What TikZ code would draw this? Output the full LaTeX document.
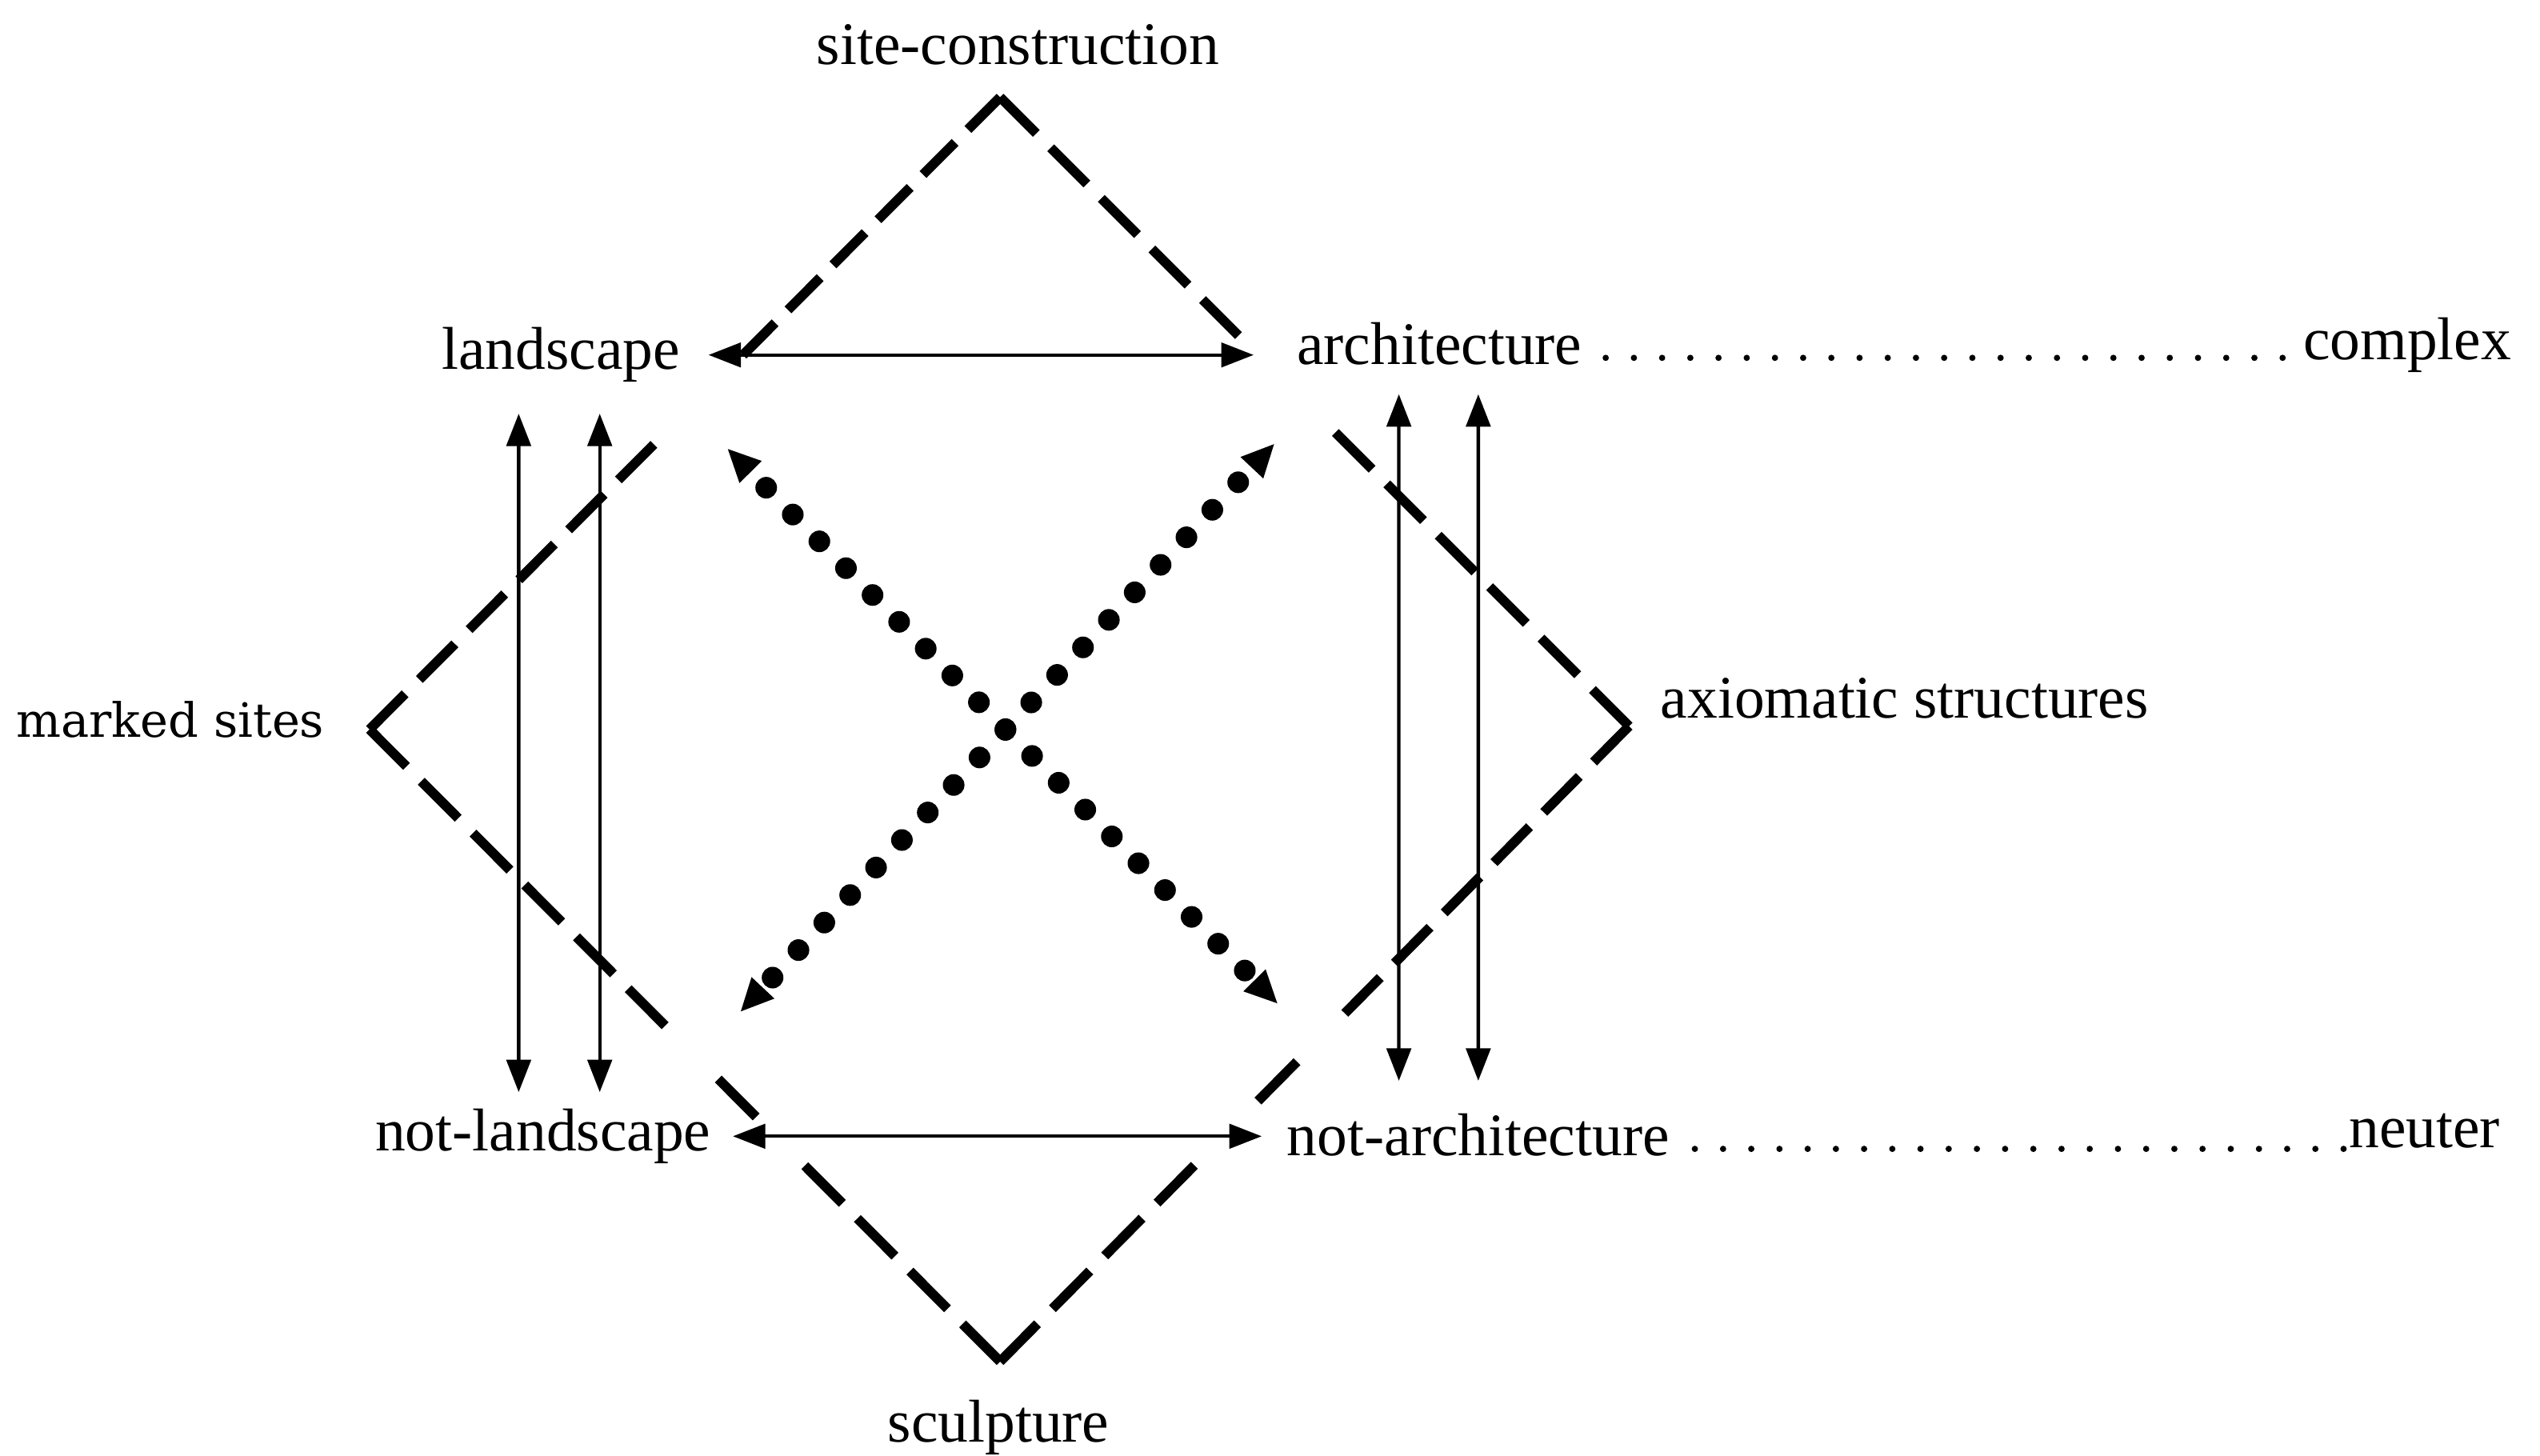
\documentclass[tikz,border=0pt]{standalone}
\usepackage{fontspec}
\setmainfont{Liberation Serif}
\newfontfamily\markfont{DejaVu Serif}
\usetikzlibrary{arrows.meta,calc}

\begin{document}
\begin{tikzpicture}[>={Triangle[length=2mm,width=1.5mm]},
  word/.style={inner sep=0pt,text height=7.2pt,text depth=2.2pt,font=\fontsize{10.6}{12}\selectfont},
  thin arrow/.style={<->,line width=0.6pt},
  big dash/.style={line width=1.7pt},
  big dots/.style={{Triangle[length=2mm,width=1.9mm,line width=0.4pt]}-{Triangle[length=2mm,width=1.9mm,line width=0.4pt]},
    line width=3.8pt,line cap=round,dash pattern=on 0pt off 2.33mm},
  leader/.style={line width=1.1pt,line cap=round,dash pattern=on 0pt off 1.74mm}]

 \useasboundingbox (0,0) rectangle (15.67,8.98);

 % the terms
 \node[word] (sitecon) at (6.28,8.67) {site-construction};
 \node[word] (land) at (3.46,6.79) {landscape};
 \node[word] (arch) at (8.88,6.82) {architecture};
 \node[word,anchor=east] (complex) at (15.50,6.85) {complex};
 \node[word,font=\markfont\fontsize{8.3}{10}\selectfont] (marked) at (1.05,4.52) {marked sites};
 \node[word] (axiom) at (11.75,4.64) {axiomatic structures};
 \node[word] (notland) at (3.35,1.97) {not-landscape};
 \node[word] (notarch) at (9.12,1.94) {not-architecture};
 \node[word,anchor=east] (neuter) at (15.43,1.99) {neuter};
 \node[word] (sculpt) at (6.16,0.17) {sculpture};

 % corners of the dashed square
 \coordinate (top) at (6.17,8.38);
 \coordinate (left) at (2.28,4.48);
 \coordinate (right) at (10.05,4.50);
 \coordinate (bottom) at (6.17,0.58);

 % each leg: start, direction, fraction, stretch of the dashes
 \foreach \a/\b/\f/\s in {top/left/0.408/0.936, top/right/0.379/1.051, left/top/0.451/1.035,
   left/bottom/0.469/1.076, bottom/left/0.31/1.094, bottom/right/0.309/1.092,
   right/top/0.467/1.0675, right/bottom/0.452/1.039}{
   \pgfmathsetmacro\dd{0.30*\s}
   \pgfmathsetmacro\gg{0.12*\s}
   \draw[big dash,dash pattern=on \dd cm off \gg cm] (\a) -- ($(\a)!\f!(\b)$);
 }
 \draw[big dash] ($(left)!0.553!(bottom)$) -- ($(left)!0.613!(bottom)$);
 \draw[big dash] ($(right)!0.528!(bottom)$) -- ($(right)!0.590!(bottom)$);

 % dotted diagonals
 \coordinate (x1) at (4.49,6.21);
 \coordinate (x2) at (7.88,2.79);
 \coordinate (x3) at (7.86,6.24);
 \coordinate (x4) at (4.57,2.74);
 \draw[big dots,dash phase=0.93mm] (x1) -- (x2);
 \draw[big dots,dash phase=1.43mm] (x4) -- (x3);

 % arrows between the terms
 \draw[thin arrow,shorten <=1.7mm,shorten >=2.6mm] (land.east) -- (land.east -| arch.west);
 \draw[thin arrow,shorten <=1.3mm,shorten >=1.5mm] (notland.east) -- (notland.east -| notarch.west);
 \draw[thin arrow] ([xshift=-2.6mm,yshift=-1.9mm]land.south) -- ([xshift=-1.5mm,yshift=1mm]notland.north);
 \draw[thin arrow] ([xshift=2.4mm,yshift=-1.9mm]land.south) -- ([xshift=3.5mm,yshift=1mm]notland.north);
 \draw[thin arrow] ([xshift=-2.5mm,yshift=-1mm]arch.south) -- ([xshift=-4.9mm,yshift=2mm]notarch.north);
 \draw[thin arrow] ([xshift=2.4mm,yshift=-1mm]arch.south) -- ([xshift=0mm,yshift=2mm]notarch.north);

 % leaders
 \draw[leader,shorten <=1.4mm,shorten >=0.2mm] ([yshift=0.4mm]arch.base east) -- ([yshift=0.4mm]arch.base east -| complex.west);
 \draw[leader,shorten <=1.5mm,shorten >=0.2mm] ([yshift=0.4mm]notarch.base east) -- ([yshift=0.4mm]notarch.base east -| neuter.west);

\end{tikzpicture}
\end{document}
